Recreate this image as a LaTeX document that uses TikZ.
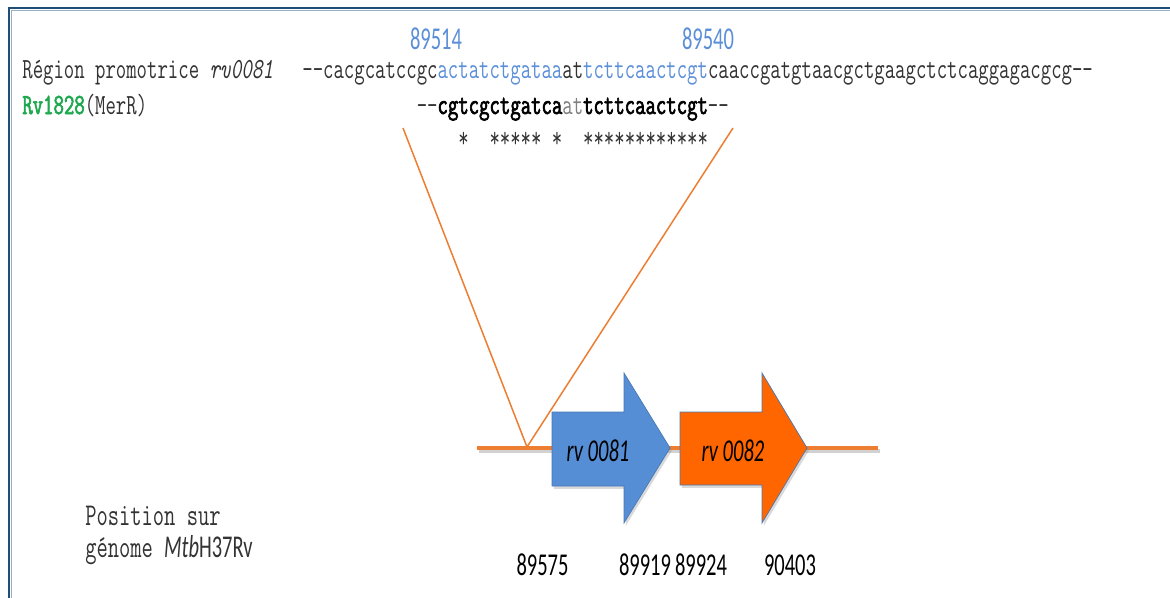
\documentclass[tikz,border=0pt]{standalone}
\usepackage{fontspec}
\setmainfont{Liberation Serif}
\setmonofont[FakeStretch=0.69, BoldFont={Latin Modern Mono},
  BoldFeatures={FakeBold=2.2}]{Latin Modern Mono}
\newfontfamily\calibri[FakeStretch=0.645]{Carlito}
\usetikzlibrary{shadows}

\definecolor{seqblue}{HTML}{5B8FD8}
\definecolor{geneblue}{HTML}{558ED5}
\definecolor{geneorange}{HTML}{FF6600}
\definecolor{lineorange}{HTML}{ED7D31}
\definecolor{frameblue}{HTML}{1F4E79}
\definecolor{mergreen}{HTML}{1FA84F}
\definecolor{txt}{HTML}{333333}

\begin{document}
\begin{tikzpicture}[
    x=0.02cm, y=-0.02cm,
    seq/.style={anchor=base west, inner sep=0pt, text=txt,
      font=\fontsize{16.66}{18}\ttfamily},
    note/.style={anchor=base west, inner sep=0pt, text=txt,
      font=\fontsize{18.05}{20}\ttfamily},
    posnum/.style={anchor=base, inner sep=0pt, font=\fontsize{18.1}{20}\calibri},
    genelbl/.style={inner sep=0pt, font=\fontsize{18.1}{20}\calibri\itshape},
    gene/.style={draw=geneblue!85!black, line width=0.4pt,
      drop shadow={shadow xshift=1pt, shadow yshift=-1.6pt, opacity=0.3}},
    link/.style={draw=lineorange, line width=0.85pt}
  ]
    \useasboundingbox (0,0) rectangle (1170,598);
    % frame
    \draw[frameblue, line width=1.7pt] (9,600) -- (9,8) -- (1172,8);
    \draw[frameblue!45, line width=0.5pt] (11.6,600) -- (11.6,10.6) -- (1172,10.6);

    % sequences
    \node[posnum, text=seqblue] (p89514) at (436,50) {89514};
    \node[posnum, text=seqblue] (p89540) at (708,50) {89540};
    \node[seq] (region) at (22,79) {Région promotrice \textit{rv0081}};
    \node[seq] (seqtop) at (302,79) {-{}-cacgcatccgc\textcolor{seqblue}{actatctgataa}at\textcolor{seqblue}{tcttcaactcgt}caaccgatgtaacgctgaagctctcaggagacgcg-{}-};
    \node[seq] (merr) at (22,114) {\textcolor{mergreen}{\bfseries Rv1828}(MerR)};
    \node[seq] (seqmer) at (416.4,114) {-{}-\textbf{\color{black}cgtcgctgatca}\textcolor{gray}{at}\textbf{\color{black}tcttcaactcgt}-{}-};
    \node[seq] (stars) at (458,148) {*\ \ *****\ *\ \ ************};

    % zoom lines
    \coordinate (cutL) at (403,128);
    \coordinate (cutR) at (733,128);
    \coordinate (site) at (527,447);
    \draw[link] (cutL) -- (site) -- (cutR);

    % genome line
    \coordinate (lineL) at (477,448);
    \coordinate (lineR) at (878,448);
    \draw[black, opacity=0.18, line width=2.3pt] ([shift={(1.5,3)}]lineL) -- ([shift={(1.5,3)}]lineR);
    \draw[lineorange, line width=2.3pt] (lineL) -- (lineR);

    % genes
    \path[gene, fill=geneblue] (552,412) -- (624,412) -- (624,373) -- (670,448)
      -- (624,523) -- (624,486) -- (552,486) -- cycle;
    \path[gene, fill=geneorange] (680,412) -- (762,412) -- (762,373) -- (807,448)
      -- (762,523) -- (762,485) -- (680,485) -- cycle;
    \node[genelbl] (g0081) at (598,451) {rv 0081};
    \node[genelbl] (g0082) at (733,451) {rv 0082};

    % positions
    \node[note] (possur) at (85,525) {Position sur};
    \node[note] (genome) at (85,557) {génome\ {\calibri\itshape Mtb}{\calibri H37Rv}};
    \node[posnum] (p89575) at (542.5,575) {89575};
    \node[posnum] (p89919) at (645,575) {89919};
    \node[posnum] (p89924) at (701,575) {89924};
    \node[posnum] (p90403) at (790,575) {90403};
\end{tikzpicture}
\end{document}
